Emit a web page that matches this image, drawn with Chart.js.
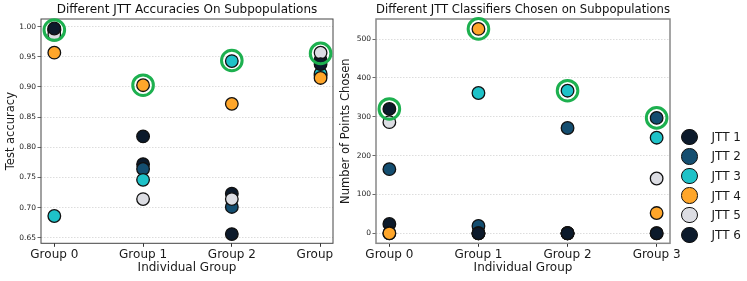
<!DOCTYPE html>
<html>
<head>
<meta charset="utf-8">
<script src="https://cdn.jsdelivr.net/npm/chart.js@4/dist/chart.umd.min.js"></script>
<style>
  html, body { margin: 0; padding: 0; background: #fff; }
  #wrap { position: relative; width: 747px; height: 281px; overflow: hidden; background: #fff; }
  #left { position: absolute; left: 0; top: 0; z-index: 1; }
  #right { position: absolute; left: 337px; top: 0; z-index: 2; background: #fff; }
  #legend { position: absolute; left: 680px; top: 127px; z-index: 3; font-family: 'DejaVu Sans', sans-serif; font-size: 12px; color: #1a1a1a; }
  .item { display: flex; align-items: center; height: 19.6px; }
  .dot { box-sizing: border-box; width: 16.5px; height: 16.5px; border-radius: 50%; border: 1.5px solid #111; margin-left: 1px; margin-right: 14px; }
</style>
</head>
<body>
<div id="wrap">
  <canvas id="left" width="360" height="281"></canvas>
  <canvas id="right" width="410" height="281"></canvas>
  <div id="legend"></div>
</div>
<script>
// ---- data ----
const groups = ['Group 0', 'Group 1', 'Group 2', 'Group 3'];
const groupPos = [0, 1, 2, 3];
const seriesNames = ['JTT 1', 'JTT 2', 'JTT 3', 'JTT 4', 'JTT 5', 'JTT 6'];
const seriesColors = ['#0c1a2b', '#144e70', '#1ec2c8', '#ffa62a', '#dcdde3', '#0c1a2b'];

const accTicks = [0.65, 0.70, 0.75, 0.80, 0.85, 0.90, 0.95, 1.00];
const accJTT1 = [0.995, 0.772, 0.723, 0.945];
const accJTT2 = [0.994, 0.764, 0.701, 0.919];
const accJTT3 = [0.686, 0.746, 0.943, 0.922];
const accJTT4 = [0.957, 0.903, 0.872, 0.915];
const accJTT5 = [0.987, 0.714, 0.714, 0.957];
const accJTT6 = [0.997, 0.818, 0.656, 0.938];
const accHighlight = [0.9945, 0.903, 0.944, 0.9557];

const ptsTicks = [0, 100, 200, 300, 400, 500];
const ptsJTT1 = [24, 0, 0, 0];
const ptsJTT2 = [165, 19, 271, 297];
const ptsJTT3 = [0, 361, 367, 246];
const ptsJTT4 = [0, 526, 0, 52];
const ptsJTT5 = [286, 0, 0, 141];
const ptsJTT6 = [320, 0, 0, 0];
const ptsHighlight = [320, 526, 367, 297];

const accSeries = [accJTT1, accJTT2, accJTT3, accJTT4, accJTT5, accJTT6];
const ptsSeries = [ptsJTT1, ptsJTT2, ptsJTT3, ptsJTT4, ptsJTT5, ptsJTT6];

Chart.defaults.font.family = "'DejaVu Sans', sans-serif";
Chart.defaults.color = '#1a1a1a';

const framePlugin = {
  id: 'frame',
  beforeDatasetsDraw(chart, args, opts) {
    const {left, top, right, bottom} = chart.chartArea;
    const ctx = chart.ctx;
    ctx.save();
    ctx.strokeStyle = opts.color;
    ctx.lineWidth = opts.width;
    ctx.strokeRect(left, top, right - left, bottom - top);
    ctx.restore();
  }
};

function toPoints(vals) {
  return vals.map((v, i) => ({x: groupPos[i], y: v}));
}

function makeDatasets(series, highlight) {
  const ds = series.map((vals, k) => ({
    label: seriesNames[k],
    data: toPoints(vals),
    backgroundColor: seriesColors[k],
    borderColor: '#111',
    borderWidth: 1.3,
    pointRadius: 6.3,
    pointHoverRadius: 6.3,
    order: series.length - k,
    clip: false
  }));
  ds.push({
    label: 'best',
    data: toPoints(highlight),
    backgroundColor: 'rgba(0,0,0,0)',
    borderColor: '#1db04f',
    borderWidth: 3,
    pointRadius: 10.3,
    pointHoverRadius: 10.3,
    order: 0,
    clip: false
  });
  return ds;
}

function makeConfig(opt) {
  return {
    type: 'scatter',
    data: { datasets: makeDatasets(opt.series, opt.highlight) },
    options: {
      responsive: false,
      animation: false,
      devicePixelRatio: 1,
      layout: { padding: { left: 0, right: opt.padRight, top: 0, bottom: 0 } },
      plugins: {
        legend: { display: false },
        tooltip: { enabled: false },
        title: {
          display: true,
          text: opt.title,
          fullSize: false,
          font: { size: 12, weight: 'normal' },
          color: '#111',
          padding: { top: 3, bottom: 1.6 }
        },
        frame: { color: opt.frameColor, width: opt.frameWidth }
      },
      scales: {
        x: {
          type: 'linear',
          min: -0.15,
          max: opt.xMax,
          afterBuildTicks: s => { s.ticks = groupPos.map(v => ({value: v})); },
          afterFit: s => { s.height = 37.7; s.paddingLeft = 0; s.paddingRight = 0; },
          ticks: {
            autoSkip: false, maxRotation: 0, padding: 1,
            font: { size: 12 }, color: '#1a1a1a',
            callback: v => groups[v]
          },
          grid: { drawOnChartArea: false, drawTicks: true, tickLength: 3.5, tickColor: '#333', tickWidth: 1 },
          border: { display: false },
          title: { display: true, text: 'Individual Group', font: { size: 12 }, color: '#1a1a1a', padding: { top: 0, bottom: 6 } }
        },
        y: {
          type: 'linear',
          min: opt.yMin,
          max: opt.yMax,
          afterBuildTicks: s => { s.ticks = opt.yTicks.map(v => ({value: v})); },
          afterFit: s => { s.width = opt.yWidth; s.paddingTop = 0; s.paddingBottom = 0; },
          ticks: {
            autoSkip: false, padding: 1.5,
            font: { size: 7.5 }, color: '#222',
            callback: opt.yFmt
          },
          grid: { color: 'rgba(0,0,0,0.17)', lineWidth: 0.8, tickLength: 3.5, tickColor: '#444', tickWidth: 0.8 },
          border: { display: false, dash: [1.5, 1.5] },
          title: { display: true, text: opt.yTitle, font: { size: 11.5 }, color: '#1a1a1a', padding: { top: opt.yTitlePad, bottom: 0 } }
        }
      }
    },
    plugins: [framePlugin]
  };
}

new Chart(document.getElementById('left'), makeConfig({
  series: accSeries, highlight: accHighlight,
  title: 'Different JTT Accuracies On Subpopulations',
  padRight: 27, xMax: 3.14,
  yMin: 0.6407, yMax: 1.0128, yTicks: accTicks, yWidth: 41,
  yFmt: v => Number(v).toFixed(2),
  yTitle: 'Test accuracy', yTitlePad: 4,
  frameColor: '#444', frameWidth: 1
}));

new Chart(document.getElementById('right'), makeConfig({
  series: ptsSeries, highlight: ptsHighlight,
  title: 'Different JTT Classifiers Chosen on Subpopulations',
  padRight: 77, xMax: 3.15,
  yMin: -25.8, yMax: 551.5, yTicks: ptsTicks, yWidth: 39,
  yFmt: v => String(v),
  yTitle: 'Number of Points Chosen', yTitlePad: 2,
  frameColor: '#888', frameWidth: 1.5
}));

// legend built from the series arrays
const legend = document.getElementById('legend');
seriesNames.forEach((name, k) => {
  const row = document.createElement('div');
  row.className = 'item';
  const dot = document.createElement('span');
  dot.className = 'dot';
  dot.style.background = seriesColors[k];
  const txt = document.createElement('span');
  txt.textContent = name;
  row.appendChild(dot);
  row.appendChild(txt);
  legend.appendChild(row);
});
</script>
</body>
</html>
